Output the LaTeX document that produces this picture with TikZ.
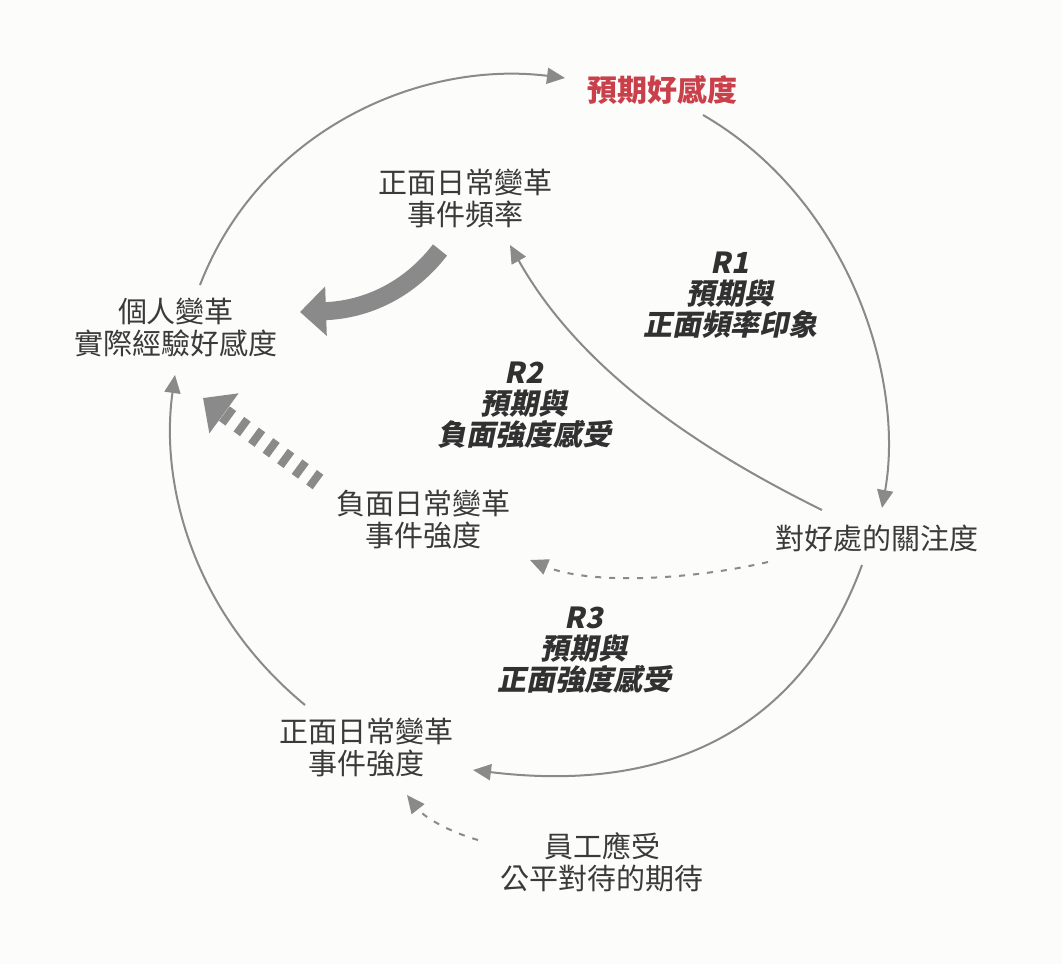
\documentclass[tikz,border=0pt]{standalone}
\usepackage{fontspec}
\setmainfont{Noto Sans CJK TC}
\newfontfamily\rfont{Noto Sans CJK TC}[FakeSlant=0.2]
\usetikzlibrary{arrows.meta}
\definecolor{bg}{HTML}{FCFCFB}
\definecolor{ln}{HTML}{8A8A8A}
\definecolor{tx}{HTML}{3A3A3A}
\definecolor{rd}{HTML}{C9404A}
\begin{document}
\begin{tikzpicture}[x=0.5pt,y=-0.5pt,
  lbl/.style={align=center,text=tx,font=\fontsize{14.5}{16}\selectfont},
  loop/.style={align=center,text=tx!85!black,font=\fontsize{14.5}{15.5}\selectfont\rfont\bfseries},
  conn/.style={draw=ln,line width=1pt,-{Triangle[length=9pt,width=8pt]},fill=none},
  dconn/.style={conn,dash pattern=on 4pt off 4pt},
  fat/.style={draw=ln,line width=9pt,-{Triangle[length=13pt,width=24pt]}}]
\fill[bg] (0,0) rectangle (1062,964);
\useasboundingbox (0,0) rectangle (1062,964);
\node[lbl,text=rd,font=\fontsize{15}{17}\selectfont\bfseries] (exp) at (662,90) {預期好感度};
\node[lbl] (freq) at (465,198) {正面日常變革\\事件頻率};
\node[lbl] (pers) at (176,327) {個人變革\\實際經驗好感度};
\node[loop] (r1) at (730,295) {R1\\預期與\\正面頻率印象};
\node[loop] (r2) at (524,405) {R2\\預期與\\負面強度感受};
\node[lbl] (neg) at (423,520) {負面日常變革\\事件強度};
\node[lbl] (att) at (877,538) {對好處的關注度};
\node[loop] (r3) at (584,650) {R3\\預期與\\正面強度感受};
\node[lbl] (pos) at (366,748) {正面日常變革\\事件強度};
\node[lbl] (fair) at (602,862) {員工應受\\公平對待的期待};
\coordinate (a1) at (200,285); \coordinate (a2) at (565,78);
\draw[conn] (a1) .. controls (260,130) and (420,60) .. (a2);
\coordinate (b1) at (703,115); \coordinate (b2) at (882,508);
\draw[conn] (b1) .. controls (850,200) and (905,380) .. (b2);
\coordinate (c1) at (822,510); \coordinate (c2) at (510,245);
\draw[conn] (c1) .. controls (700,450) and (580,370) .. (c2);
\coordinate (d1) at (440,250); \coordinate (d2) at (300,312);
\draw[fat] (d1) .. controls (405,295) and (360,310) .. (d2);
\coordinate (e1) at (318,482); \coordinate (e2) at (203,398);
\draw[fat,dash pattern=on 4pt off 5pt] (e1) -- (e2);
\coordinate (f1) at (768,562); \coordinate (f2) at (530,560);
\draw[dconn,dash pattern=on 3pt off 4pt] (f1) .. controls (690,580) and (590,585) .. (f2);
\coordinate (g1) at (862,565); \coordinate (g2) at (473,770);
\draw[conn] (g1) .. controls (820,680) and (720,800) .. (g2);
\coordinate (h1) at (305,705); \coordinate (h2) at (175,375);
\draw[conn] (h1) .. controls (190,610) and (160,480) .. (h2);
\coordinate (i1) at (478,840); \coordinate (i2) at (407,795);
\draw[dconn,dash pattern=on 3pt off 4pt] (i1) .. controls (450,832) and (425,818) .. (i2);
\end{tikzpicture}
\end{document}
